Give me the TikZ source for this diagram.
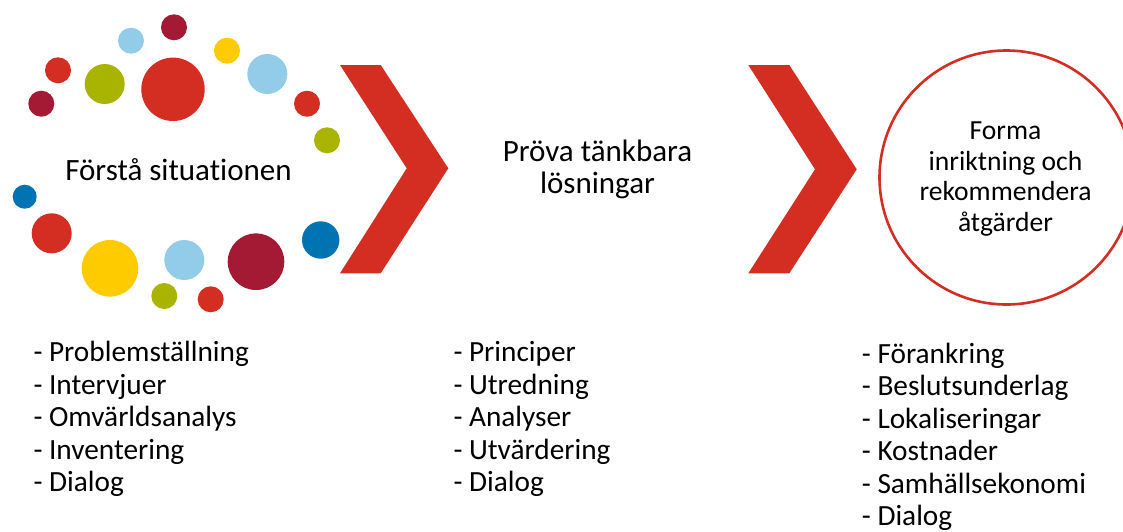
\documentclass[tikz,border=0pt]{standalone}
\usepackage{fontspec}
\setmainfont{Carlito}[Ligatures=NoCommon]
\definecolor{ored}{HTML}{D42E22}
\definecolor{ocrimson}{HTML}{A41A34}
\definecolor{ogreen}{HTML}{A8B400}
\definecolor{oyellow}{HTML}{FECB00}
\definecolor{olightblue}{HTML}{93CCE8}
\definecolor{oblue}{HTML}{0074B3}
% stacked lines whose baseline is the baseline of the first line
\newcommand{\leftlines}[1]{\begin{tabular}[t]{@{}l@{}}#1\end{tabular}}
\newcommand{\centerlines}[1]{\begin{tabular}[t]{@{}c@{}}#1\end{tabular}}
\begin{document}
\begin{tikzpicture}[x=1pt,y=-1pt,
  dot/.style={fill=#1,draw=none},
  chev/.style={fill=ored,draw=none},
  title/.style={inner sep=0pt,anchor=base,font=\fontsize{31}{31.6}\selectfont},
  goaltext/.style={inner sep=0pt,anchor=base,font=\fontsize{27.6}{30.8}\selectfont},
  items/.style={inner sep=0pt,anchor=base west,font=\fontsize{29.3}{32.5}\selectfont},
]
\useasboundingbox[fill=white] (0,0) rectangle (1123,531);

% ring of dots around the first stage
\fill[dot=ocrimson]   (174,27.3)   circle (13);
\fill[dot=olightblue] (131,40.7)   circle (13);
\fill[dot=oyellow]    (227,50.7)   circle (13);
\fill[dot=ored]       (58,70.3)    circle (13);
\fill[dot=ogreen]     (104.7,84)   circle (20);
\fill[dot=ored]       (173,89.3)   circle (31.7);
\fill[dot=olightblue] (267.3,74)   circle (20);
\fill[dot=ocrimson]   (41.3,103.7) circle (13);
\fill[dot=ored]       (307,103.7)  circle (13);
\fill[dot=ogreen]     (327,140.3)  circle (13);
\fill[dot=oblue]      (24.7,196.7) circle (12);
\fill[dot=ored]       (51.7,233.3) circle (20);
\fill[dot=oyellow]    (110,268.3)  circle (28.3);
\fill[dot=olightblue] (184.3,260)  circle (20);
\fill[dot=ocrimson]   (256,261.7)  circle (28.3);
\fill[dot=oblue]      (320.7,240)  circle (18.7);
\fill[dot=ogreen]     (164.3,296)  circle (13);
\fill[dot=ored]       (210.7,299.3) circle (13);

% chevrons between the stages
\fill[chev] (340,65) -- (380.7,65) -- (448.3,168.3) -- (380.7,273.3)
  -- (340,273.3) -- (406.7,168.3) -- cycle;
\fill[chev] (748.3,65) -- (789.3,65) -- (856.7,169.3) -- (789.3,273.3)
  -- (748.3,273.3) -- (815,169.3) -- cycle;

% final stage
\node[circle,draw=ored,line width=2.6pt,minimum size=254pt,inner sep=0pt] (goal) at (1006.5,177.5) {};

% stage titles
\node[title] (s1) at (178.5,180) {Förstå situationen};
\node[title] (s2) at (597.5,161.7) {\centerlines{Pröva tänkbara\\lösningar}};
\node[goaltext] (s3) at (1005.5,139.3) {\centerlines{Forma\\inriktning och\\rekommendera\\åtgärder}};

% activity lists
\node[items] (l1) at (33.3,361.7) {\leftlines{- Problemställning\\- Intervjuer\\- Omvärldsanalys\\- Inventering\\- Dialog}};
\node[items] (l2) at (453.3,361.7) {\leftlines{- Principer\\- Utredning\\- Analyser\\- Utvärdering\\- Dialog}};
\node[items] (l3) at (861.7,363.3) {\leftlines{- Förankring\\- Beslutsunderlag\\- Lokaliseringar\\- Kostnader\\- Samhällsekonomi\\- Dialog}};
\end{tikzpicture}
\end{document}
